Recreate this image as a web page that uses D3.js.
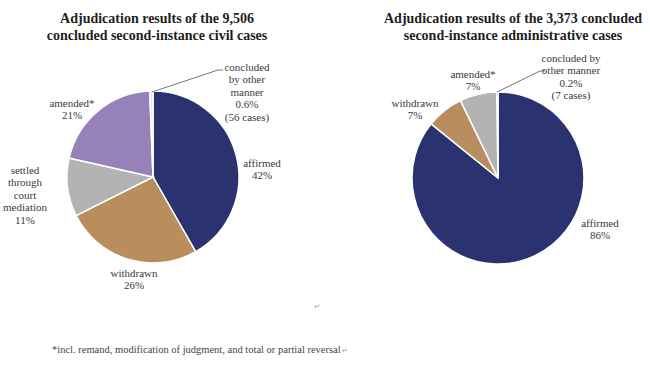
<!DOCTYPE html>
<html>
<head>
<meta charset="utf-8">
<script src="https://cdn.jsdelivr.net/npm/d3@7"></script>
<style>
  body { margin: 0; background: #fff; }
  text { font-family: "Liberation Serif", serif; }
</style>
</head>
<body>
<script>
// civil cases (left pie), clockwise from top
var civilCats = ["affirmed", "withdrawn", "settled through court mediation", "amended*", "concluded by other manner"];
var civilVals = [42, 26, 11, 21, 0.6];
var civilColors = ["#2b3270", "#b98e5e", "#b3b3b3", "#9682b9", "#e4e4e4"];
var civilLabels = [
  ["affirmed", "42%"],
  ["withdrawn", "26%"],
  ["settled", "through", "court", "mediation", "11%"],
  ["amended*", "21%"],
  ["concluded", "by other", "manner", "0.6%", "(56 cases)"]
];

// administrative cases (right pie)
var adminCats = ["affirmed", "withdrawn", "amended*", "concluded by other manner"];
var adminVals = [86, 7, 7, 0.2];
var adminColors = ["#2b3270", "#b98e5e", "#b3b3b3", "#e4e4e4"];
var adminLabels = [
  ["affirmed", "86%"],
  ["withdrawn", "7%"],
  ["amended*", "7%"],
  ["concluded by", "other manner", "0.2%", "(7 cases)"]
];

var titles = [
  ["Adjudication results of the 9,506", "concluded second-instance civil cases"],
  ["Adjudication results of the 3,373 concluded", "second-instance administrative cases"]
];
var footnote = "*incl. remand, modification of judgment, and total or partial reversal";

var width = 650, height = 371, r = 86;

var svg = d3.select("body").append("svg")
    .attr("width", width)
    .attr("height", height);

var pie = d3.pie().sort(null).value(function(d) { return d; });
var arc = d3.arc().innerRadius(0).outerRadius(r);

function drawPie(cx, cy, vals, colors, labels, labelPos, title, titleX, leader) {
  var g = svg.append("g").attr("transform", "translate(" + cx + "," + cy + ")");

  g.selectAll("path")
    .data(pie(vals))
    .enter().append("path")
      .attr("d", arc)
      .attr("fill", function(d, i) { return colors[i]; })
      .attr("stroke", "#fff")
      .attr("stroke-width", 1.5);

  // leader line for the tiny slice
  svg.append("polyline")
    .attr("points", leader.map(function(p) { return p.join(","); }).join(" "))
    .attr("fill", "none")
    .attr("stroke", "#555")
    .attr("stroke-width", 0.8);

  labels.forEach(function(lines, i) {
    var t = svg.append("text")
      .attr("text-anchor", "middle")
      .attr("font-size", "11px")
      .attr("fill", "#3a3a3a");
    lines.forEach(function(s, j) {
      t.append("tspan")
        .attr("x", labelPos[i][0])
        .attr("y", labelPos[i][1] + j * 12.4)
        .text(s);
    });
  });

  var tt = svg.append("text")
    .attr("text-anchor", "middle")
    .attr("font-size", "14px")
    .attr("font-weight", "bold")
    .attr("fill", "#1e1e1e");
  title.forEach(function(s, j) {
    tt.append("tspan").attr("x", titleX).attr("y", 23 + j * 16.5).text(s);
  });
}

drawPie(153, 177, civilVals, civilColors, civilLabels,
  [[262, 167], [134, 277], [25, 174], [72, 107], [247, 71]],
  titles[0], 157, [[152, 92], [218, 70], [223, 70]]);

drawPie(498, 178, adminVals, adminColors, adminLabels,
  [[600, 227], [415, 107], [473, 78], [571, 62]],
  titles[1], 513, [[497, 92], [540, 71], [545, 71]]);

// footnote
var fn = svg.append("text")
  .attr("x", 52)
  .attr("y", 353)
  .attr("font-size", "10.5px")
  .attr("fill", "#444")
  .text(footnote);
var fnEnd = 52 + fn.node().getComputedTextLength();

// word-processor paragraph marks
svg.append("text").attr("x", 314).attr("y", 309).attr("font-size", "7px").attr("fill", "#999").text("\u21b5");
svg.append("text").attr("x", fnEnd + 1).attr("y", 353).attr("font-size", "7px").attr("fill", "#999").text("\u21b5");
</script>
</body>
</html>
